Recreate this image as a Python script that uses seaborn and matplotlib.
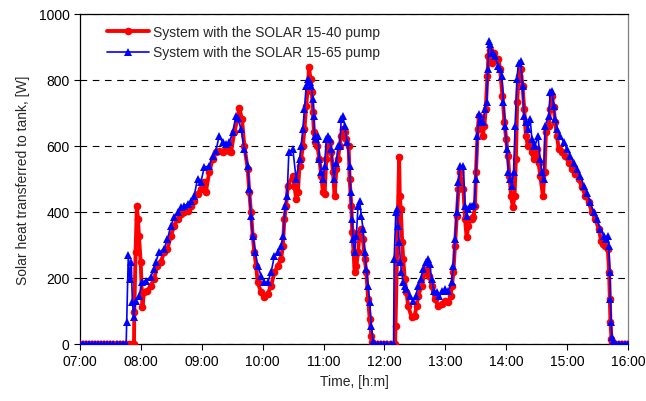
import matplotlib
matplotlib.use("Agg")
import matplotlib.pyplot as plt
import seaborn as sns
import pandas as pd
from matplotlib.ticker import FuncFormatter, MultipleLocator

# Time in minutes after 07:00, values in W
red_t = [0, 3, 6, 9, 12, 15, 18, 21, 24, 27, 30, 33, 36, 39, 42, 45, 48, 51, 53.2,
         53.5, 54.8, 56, 57.1, 58.1, 59.8, 61.5, 63.1, 66.4, 69.7, 72.9, 76.3, 79.6, 82.8, 86.2,
         89.5, 92.7, 96.1, 99.3, 102.6, 106, 109.2, 112.5, 115.8, 119.1, 122.4, 124, 127.3, 130.7,
         133.9, 137.2, 140.5, 143.8, 147.1, 148.8, 152, 155.4, 157, 159.6, 161.9, 165.3, 166.8,
         168.5, 170.2, 171.8, 173.5, 175.1, 178.4, 181.7, 185, 188.3, 191.6, 194.9, 198.2, 199.9,
         201.4, 203.1, 204.8, 209.7, 211.3, 213, 214.7, 216.3, 217.9, 219.6, 221.2, 222.9, 224.6,
         225.6, 227.2, 228.5, 229.5, 230.5, 231.8, 233.8, 236, 237.7, 239.4, 241, 242.7, 244.3,
         245.9, 247.6, 249.3, 250.9, 252.6, 254.3, 255.8, 257.5, 259.2, 260.7, 262.4, 264.7, 265.7,
         267.4, 268.3, 269.6, 270.6, 272.3, 274, 275.6, 277.2, 278.9, 280.5, 282.2, 283.9, 285.5,
         287.1, 288.1, 290, 293, 296, 299, 302, 305, 308, 310.5, 310.9, 314.5, 315.1, 316.1, 317.5,
         318.5, 320, 321.7, 323.4, 326.7, 329.9, 331.6, 333.3, 336.6, 339.8, 342.2, 344.2, 346.4,
         349.7, 353.1, 356.3, 359.6, 363, 365.2, 366.5, 367.9, 369.5, 371.2, 372.9, 374.4, 377.8,
         379.4, 381, 382.7, 384.3, 386, 387.7, 389.2, 390.2, 391.9, 393.2, 395.2, 396.8, 398.5,
         399.8, 401.5, 402.5, 404.1, 405.1, 406.4, 408, 410, 412.3, 413.9, 416.3, 418.3, 419.9,
         421.6, 423.2, 424.8, 426.5, 428.2, 429.5, 430.8, 432.1, 434.1, 436.1, 437.7, 439.4, 441.3,
         443.6, 445.3, 447, 448.5, 450.2, 451.9, 453.5, 456.2, 457.8, 459.1, 461.8, 463.4, 465.1,
         466.7, 468.3, 470, 471.7, 475, 478.2, 481.6, 484.8, 488.1, 491.4, 494.7, 498, 501.3,
         504.6, 507.8, 511.2, 513.5, 515.5, 517.7, 520.1, 521.4, 522.1, 522.7, 523.7, 524.6, 527,
         530, 533, 536, 539]
red_w = [0, 0, 0, 0, 0, 0, 0, 0, 0, 0, 0, 0, 0, 0, 0, 0, 0, 0, 0,
         97, 278, 419, 379, 328, 248, 112, 157, 161, 177, 197, 237, 248, 278, 288,
         328, 358, 379, 394, 399, 404, 419, 434, 455, 470, 490, 460, 520, 560,
         581, 586, 581, 601, 586, 581, 641, 687, 714, 682, 601, 530, 460,
         399, 328, 278, 237, 187, 157, 141, 152, 177, 217, 237, 258, 298,
         379, 419, 480, 510, 480, 439, 460, 540, 560, 601, 652, 722, 783,
         838, 803, 763, 702, 641, 611, 601, 560, 510, 460, 454, 560, 601,
         611, 581, 520, 449, 530, 560, 601, 631, 652, 641, 621, 601, 500,
         419, 338, 278, 217, 237, 278, 338, 348, 318, 258, 217, 136, 76,
         25, 6, 0, 0, 0, 0, 0, 0, 0, 0, 55, 566, 449, 409, 308,
         258, 197, 157, 116, 81, 86, 116, 146, 177, 217, 227, 207, 177,
         136, 116, 121, 131, 126, 146, 177, 217, 298, 389, 470, 520, 470,
         379, 323, 358, 379, 379, 384, 419, 520, 652, 692, 682, 631, 662,
         712, 813, 873, 890, 873, 853, 883, 864, 864, 833, 752, 672, 621,
         570, 510, 449, 414, 449, 560, 732, 813, 833, 783, 712, 631, 601,
         611, 581, 560, 570, 591, 550, 510, 449, 520, 641, 662, 712, 752,
         717, 672, 631, 591, 581, 570, 550, 530, 515, 500, 475, 449, 429,
         399, 379, 348, 313, 303, 298, 288, 217, 136, 67, 15, 5, 0,
         0, 0, 0, 0]

blue_t = [0, 3, 6, 9, 12, 15, 18, 21, 24, 27, 30, 33, 36, 39, 42, 45, 45.5,
          46, 47.6, 48.9, 50.6, 51.6, 53, 54.9, 58.1, 61.5, 64.7, 69.7, 72.9, 74.6, 77.9, 82.8,
          86.2, 89.5, 92.7, 96.1, 99.3, 102.6, 106, 109.2, 112.5, 115.8, 119.1, 122.4, 127.3,
          130.7, 133.9, 137.2, 140.5, 143.8, 147.1, 150.4, 153.7, 155.4, 158.6, 161.9, 165.3,
          166.8, 168.5, 170.2, 172.8, 175.1, 178.4, 181.7, 185, 188.3, 191.6, 194.9, 198.2, 200.4,
          202.1, 204.1, 205.8, 209.7, 213, 216.3, 217.9, 219.6, 221.2, 222.9, 224.6, 226.2, 227.8,
          229.5, 230.5, 231.1, 232.8, 234.4, 236, 237.7, 239.4, 241, 242.7, 244.3, 245.9, 247.6,
          250.3, 252.6, 254.3, 255.8, 257.5, 259.2, 260.7, 263.4, 265.7, 266.7, 268.1, 269, 270.6,
          272.3, 274, 275.6, 277.2, 278.9, 280.5, 282.2, 283.9, 285.5, 287.1, 288.8, 291, 294, 297,
          300, 303, 306, 309, 309.6, 311.2, 312.5, 313.5, 314.5, 315.8, 316.8, 318.5, 320, 321.7,
          325, 328.3, 330.9, 333.3, 335.6, 338.2, 340.8, 343.2, 344.8, 346.4, 348.7, 351.4, 354.1,
          356.3, 359.6, 363, 366.2, 367.9, 369.5, 371.2, 372.9, 374.4, 377.8, 379.4, 381, 382.7,
          384.3, 386.7, 388.6, 389.9, 391.6, 393.2, 395.2, 397.1, 399.1, 400.8, 401.8, 403.1, 404.5,
          405.7, 407.4, 409, 411.6, 413.9, 415.6, 417.3, 418.9, 420.6, 422.2, 423.8, 425.5, 427.2,
          428.8, 430.5, 432.1, 434.1, 436.1, 437.7, 439.4, 441.3, 443.6, 445.3, 447, 448.5, 451.2,
          453.5, 455.2, 456.8, 458.4, 461.8, 463.4, 465.1, 466.7, 468.3, 470, 473.3, 476.6, 479.9,
          483.2, 486.5, 489.8, 493, 496.4, 499.6, 502.9, 506.2, 509.5, 512.8, 516.2, 518.7, 520.1,
          521.1, 522.1, 522.7, 523.4, 524.3, 525.3, 528, 531, 534, 537, 540]
blue_w = [0, 0, 0, 0, 0, 0, 0, 0, 0, 0, 0, 0, 0, 0, 0, 0, 0,
          67, 270, 197, 248, 127, 82, 131, 146, 188, 192, 203, 227, 248, 278, 288,
          318, 358, 384, 399, 414, 419, 424, 434, 449, 500, 490, 535, 540,
          571, 586, 631, 611, 606, 611, 641, 692, 684, 652, 591, 540,
          470, 389, 328, 278, 237, 207, 187, 187, 217, 268, 278, 298, 328,
          419, 449, 581, 591, 500, 560, 601, 652, 712, 783, 803, 793, 783,
          742, 692, 631, 621, 631, 560, 520, 500, 540, 621, 631, 621, 591,
          500, 550, 601, 601, 682, 692, 662, 611, 540, 460, 379, 318, 278,
          328, 419, 434, 389, 348, 278, 227, 177, 126, 55, 6, 0, 0, 0,
          0, 0, 0, 0, 258, 399, 409, 358, 308, 248, 217, 187, 177, 167,
          146, 131, 146, 177, 197, 227, 248, 258, 242, 197, 161, 157, 146,
          161, 167, 161, 187, 237, 318, 399, 490, 540, 540, 419, 389, 409,
          419, 419, 424, 500, 631, 697, 672, 672, 712, 732, 833, 919, 909,
          883, 883, 873, 843, 833, 813, 732, 662, 591, 520, 500, 480, 520,
          662, 803, 853, 858, 783, 692, 672, 652, 682, 621, 601, 601, 631,
          560, 520, 500, 662, 692, 763, 768, 722, 682, 652, 631, 611, 591,
          570, 550, 530, 510, 480, 459, 429, 399, 379, 348, 328, 318, 328,
          298, 217, 136, 67, 20, 5, 0, 0, 0, 0, 0]

labels = ["System with the SOLAR 15-40 pump", "System with the SOLAR 15-65 pump"]
hour_ticks = [0, 60, 120, 180, 240, 300, 360, 420, 480, 540]

sns.set_theme(style="white")
plt.rcParams["font.family"] = ["Liberation Sans", "DejaVu Sans"]

fig = plt.figure(figsize=(6.46, 4.02), dpi=100)
ax = fig.add_axes([80 / 646, 1 - 345 / 402, 548 / 646, 330 / 402])

df_r = pd.DataFrame({"t": red_t, "w": red_w})
df_b = pd.DataFrame({"t": blue_t, "w": blue_w})

sns.lineplot(data=df_r, x="t", y="w", ax=ax, color="#ff0000", linewidth=2.8,
             marker="o", markersize=5.5, markeredgewidth=0, markeredgecolor="#ff0000",
             estimator=None, sort=False, label=labels[0], zorder=3)
sns.lineplot(data=df_b, x="t", y="w", ax=ax, color="#0000ff", linewidth=1.2,
             marker="^", markersize=6, markeredgewidth=0, markeredgecolor="#0000ff",
             estimator=None, sort=False, label=labels[1], zorder=4)

ax.set_xlim(0, 540)
ax.set_ylim(0, 1000)
ax.set_xticks(hour_ticks)
ax.xaxis.set_major_formatter(FuncFormatter(lambda v, p: f"{7 + int(v) // 60:02d}:{int(v) % 60:02d}"))
ax.yaxis.set_major_locator(MultipleLocator(200))
ax.yaxis.grid(True, color="black", linestyle=(0, (6, 5)), linewidth=0.8)
ax.xaxis.grid(False)
ax.set_axisbelow(True)

for s in ax.spines.values():
    s.set_visible(True)
    s.set_color("black")
    s.set_linewidth(0.9)
ax.spines["right"].set_color("#808080")

ax.tick_params(axis="both", which="major", direction="out", length=4, width=0.8,
               colors="black", labelsize=10, bottom=True, left=True)
ax.set_xlabel("Time, [h:m]", fontsize=10, labelpad=4)
ax.set_ylabel("Solar heat transferred to tank, [W]", fontsize=10, labelpad=6)

leg = ax.legend(loc="upper left", bbox_to_anchor=(0.04, 0.985), frameon=False,
                fontsize=10, handlelength=3.0, handletextpad=0.3, labelspacing=0.5,
                borderaxespad=0)

fig.savefig("out.png", dpi=100)
